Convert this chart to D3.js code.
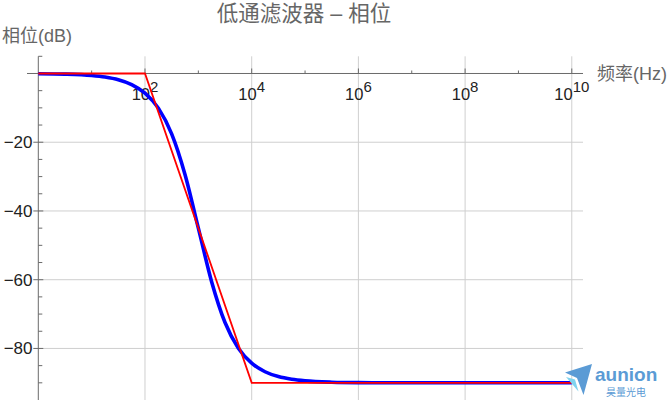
<!DOCTYPE html>
<html>
<head>
<meta charset="utf-8">
<script src="https://cdn.jsdelivr.net/npm/d3@7"></script>
<style>
  html, body { margin: 0; padding: 0; background: #fff; }
  svg { display: block; }
  text { font-family: "Liberation Sans", Arial, "Noto Sans CJK SC", sans-serif; }
</style>
</head>
<body>
<svg id="chart" width="672" height="404"></svg>
<script>
// ---- data ----
const titleText = "低通滤波器 – 相位";
const yLabelText = "相位(dB)";
const xLabelText = "频率(Hz)";

// blue: measured phase curve
const freqHz = [1, 3.16, 10, 17.8, 31.6, 56.2, 100, 178, 316, 562, 1000, 1778, 3162, 5623,
                10000, 17783, 31623, 56234, 100000, 316228, 1e6, 1e7, 1e8, 1e9, 1e10];
const phaseDeg = [-0.06, -0.18, -0.57, -1.02, -1.81, -3.22, -5.71, -10.08, -17.55, -29.36,
                  -45.0, -60.64, -72.45, -79.92, -84.29, -86.78, -88.19, -88.98, -89.43,
                  -89.82, -89.94, -89.99, -90.0, -90.0, -90.0];

// red: asymptotic approximation
const asymFreqHz = [1, 100, 10000, 1e10];
const asymPhaseDeg = [0, 0, -90, -90];

// axis ticks
const xMajorExp = [2, 4, 6, 8, 10];
const xMinorExp = [1, 3, 5, 7, 9];
const yMajorTicks = [-20, -40, -60, -80];
const yMinorTicks = [5, -5, -10, -15, -25, -30, -35, -45, -50, -55, -65, -70, -75, -85, -90];

// ---- drawing ----
const svg = d3.select("#chart");
const x = d3.scaleLog().domain([1, Math.pow(10, 10.21)]).range([38.3, 583]);
const y = d3.scaleLinear().domain([-95, 5]).range([400, 56.3]);
const x0 = x.range()[0], x1 = x.range()[1];
const yTop = y.range()[1], yBot = y.range()[0];
const axisY = y(0);

const axisColor = "#6b6b6b";
const gridColor = "#cfcfcf";

// gridlines
svg.append("g").selectAll("line").data(xMajorExp).join("line")
  .attr("x1", d => x(Math.pow(10, d))).attr("x2", d => x(Math.pow(10, d)))
  .attr("y1", yTop).attr("y2", yBot)
  .attr("stroke", gridColor).attr("stroke-width", 1);
svg.append("g").selectAll("line").data(yMajorTicks).join("line")
  .attr("x1", x0).attr("x2", x1)
  .attr("y1", d => y(d)).attr("y2", d => y(d))
  .attr("stroke", gridColor).attr("stroke-width", 1);

// y axis
svg.append("line").attr("x1", x0).attr("x2", x0).attr("y1", yTop).attr("y2", yBot)
  .attr("stroke", axisColor).attr("stroke-width", 1);
svg.append("g").selectAll("line").data(yMinorTicks).join("line")
  .attr("x1", x0).attr("x2", x0 + 4)
  .attr("y1", d => y(d)).attr("y2", d => y(d))
  .attr("stroke", axisColor).attr("stroke-width", 1);
svg.append("g").selectAll("line").data(yMajorTicks).join("line")
  .attr("x1", x0 - 5).attr("x2", x0 + 5)
  .attr("y1", d => y(d)).attr("y2", d => y(d))
  .attr("stroke", axisColor).attr("stroke-width", 1);
svg.append("g").selectAll("text").data(yMajorTicks).join("text")
  .attr("x", 32.5).attr("y", d => y(d) + 6)
  .attr("text-anchor", "end").attr("font-size", 17).attr("fill", "#222")
  .text(d => "\u2212" + Math.abs(d));

// x axis
svg.append("line").attr("x1", 27).attr("x2", x1).attr("y1", axisY).attr("y2", axisY)
  .attr("stroke", axisColor).attr("stroke-width", 1);
svg.append("g").selectAll("line").data(xMinorExp).join("line")
  .attr("x1", d => x(Math.pow(10, d))).attr("x2", d => x(Math.pow(10, d)))
  .attr("y1", axisY - 3).attr("y2", axisY)
  .attr("stroke", axisColor).attr("stroke-width", 1);
svg.append("g").selectAll("line").data(xMajorExp).join("line")
  .attr("x1", d => x(Math.pow(10, d))).attr("x2", d => x(Math.pow(10, d)))
  .attr("y1", axisY - 5).attr("y2", axisY)
  .attr("stroke", axisColor).attr("stroke-width", 1);
const xl = svg.append("g").selectAll("text").data(xMajorExp).join("text")
  .attr("x", d => x(Math.pow(10, d))).attr("y", 99.5)
  .attr("text-anchor", "middle").attr("font-size", 16.5).attr("fill", "#222");
xl.append("tspan").text("10");
xl.append("tspan").attr("font-size", 15).attr("dy", -7.5).text(d => d);

// series
const line = d3.line().x(d => x(d[0])).y(d => y(d[1]));
svg.append("path")
  .datum(freqHz.map((f, i) => [f, phaseDeg[i]]))
  .attr("d", line.curve(d3.curveMonotoneX))
  .attr("fill", "none").attr("stroke", "#0000ff").attr("stroke-width", 3.6)
  .attr("stroke-linejoin", "round");
const asymLine = d3.line().x(d => x(d[0])).y(d => y(d[1]));
svg.append("path")
  .datum(asymFreqHz.map((f, i) => [f, asymPhaseDeg[i]]))
  .attr("d", asymLine)
  .attr("fill", "none").attr("stroke", "#ff0000").attr("stroke-width", 1.8);

// labels
svg.append("text").attr("x", 304).attr("y", 21)
  .attr("text-anchor", "middle").attr("font-size", 21.5).attr("fill", "#666")
  .text(titleText);
svg.append("text").attr("x", 2).attr("y", 41.5)
  .attr("font-size", 18).attr("fill", "#666").text(yLabelText);
svg.append("text").attr("x", 597).attr("y", 79.5)
  .attr("font-size", 18).attr("fill", "#666").text(xLabelText);

// watermark logo
const wm = svg.append("g");
wm.append("path")
  .attr("d", "M592,364 L565,372.5 L577,378 L583.5,395 Z")
  .attr("fill", "#5b9bd5");
wm.append("path")
  .attr("d", "M566,377 L575,379.5 L578.5,391.5 Z")
  .attr("fill", "#7fd3ef");
wm.append("text").attr("x", 595).attr("y", 381)
  .attr("font-size", 19).attr("font-weight", "bold").attr("fill", "#5b9bd5")
  .text("aunion");
wm.append("text").attr("x", 606).attr("y", 395.5)
  .attr("font-size", 10).attr("fill", "#5b9bd5").attr("font-family", "Noto Sans CJK SC")
  .text("昊量光电");
</script>
</body>
</html>
